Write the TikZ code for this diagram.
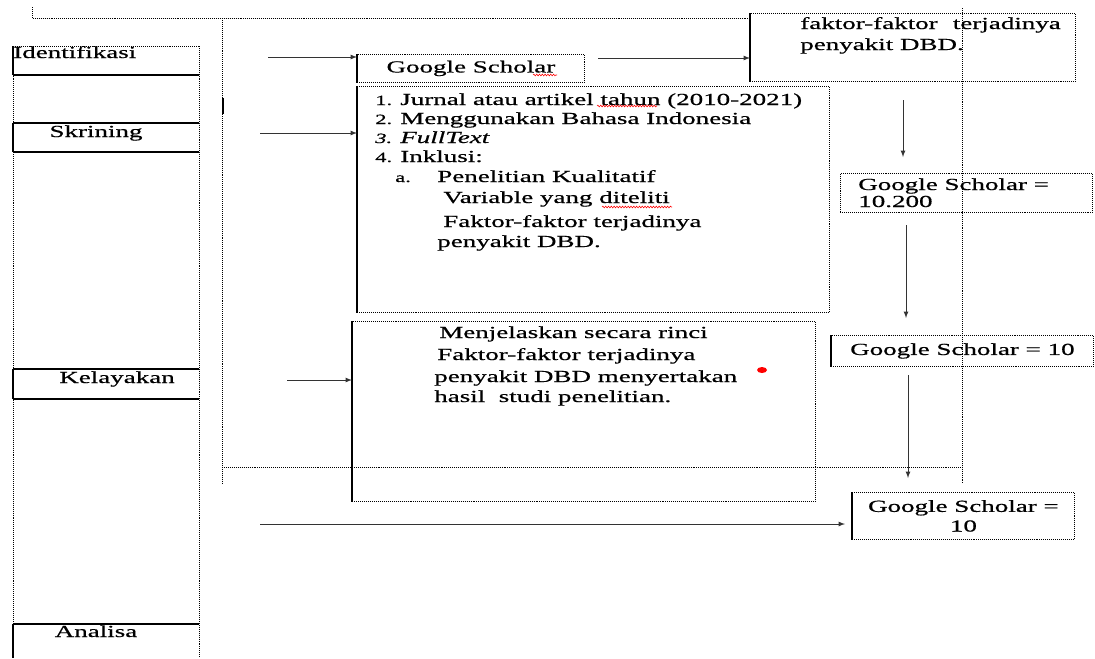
\documentclass[tikz,border=0pt]{standalone}
\usepackage{fontspec}
\setmainfont{Liberation Serif}[FakeStretch=1.6, FakeBold=0.6]
\usetikzlibrary{decorations.pathmorphing}

\newcommand\pxu{0.025cm}

\tikzset{
  dots/.style={line width=0.6pt, dash pattern=on 0.6pt off 0.8pt},
  cell/.style={draw, dots, inner sep=0, anchor=north west},
  edge/.style={line width=1.3pt},
  rule/.style={line width=0.8pt},
  txt/.style={inner sep=0, anchor=base west},
  stagetxt/.style={inner sep=0, anchor=base},
  arr/.style={->, >=latex, line width=0.6pt, draw=black!80},
  typo/.style={red, line width=0.4pt, decorate, decoration={snake, segment length=2pt, amplitude=0.6pt}}
}

\begin{document}
\begin{tikzpicture}[x=\pxu, y=-\pxu, font=\fontsize{12}{14}\selectfont]

  \useasboundingbox (0,0) rectangle (1095,658);

  % frames
  \draw[dots] (32,7) -- (32,18) -- (750,18);
  \draw[dots] (222,18) -- (222,483);
  \draw[dots] (962,8) -- (962,483);
  \draw[dots] (222,467) -- (962,467);
  \draw[edge] (223,98) -- (223,114);

  % stage column
  \draw[dots] (13,46) -- (13,658);
  \draw[dots] (199,46) -- (199,658);
  \draw[dots] (13,46) -- (199,46);
  \draw[rule] (13,75) -- (199,75);
  \draw[edge] (13,46) -- (13,75);
  \foreach \a/\b in {123/152, 369/399}{
    \draw[rule] (13,\a) -- (199,\a);
    \draw[rule] (13,\b) -- (199,\b);
    \draw[edge] (13,\a) -- (13,\b);
  }
  \draw[rule] (13,624) -- (199,624);
  \draw[edge] (13,624) -- (13,658);

  \node[txt] (idn) at (13,58) {Identifikasi};
  \node[stagetxt] (skr) at (96,137) {Skrining};
  \node[stagetxt] (kel) at (117,383) {Kelayakan};
  \node[stagetxt] (ana) at (96,637) {Analisa};

  % boxes
  \node[cell, minimum width=227*\pxu, minimum height=28*\pxu] (gs) at (357,54) {Google Scholar};
  \node[cell, minimum width=472*\pxu, minimum height=226*\pxu] (crit) at (357,86) {};
  \node[cell, minimum width=325*\pxu, minimum height=68*\pxu] (fk) at (750,13) {};
  \node[cell, minimum width=252*\pxu, minimum height=39*\pxu] (gsa) at (840,173) {};
  \node[cell, minimum width=262*\pxu, minimum height=31*\pxu] (gsb) at (831,335) {Google Scholar = 10};
  \node[cell, minimum width=222*\pxu, minimum height=47*\pxu, align=center] (gsc) at (852,492) {Google Scholar =\\10};
  \node[cell, minimum width=463*\pxu, minimum height=180*\pxu] (expl) at (352,321) {};

  \foreach \b in {gs, crit, fk, gsb, gsc, expl}
    \draw[edge] (\b.north west) -- (\b.south west);

  % texts
  \node[txt] (fk1) at (800,29) {faktor-faktor\hspace{0.9em}terjadinya};
  \node[txt] (fk2) at (800,50) {penyakit DBD.};
  \node[txt] (gsa1) at (858,190) {Google Scholar =};
  \node[txt] (gsa2) at (858,207) {10.200};

  \foreach \x/\y/\t [count=\i] in {375/105/1., 375/124/2., 375/143/\textit{3.}, 375/162/4., 395/182/a.}
    \node[txt, font=\fontsize{10}{12}\selectfont] (num\i) at (\x,\y) {\t};
  \foreach \x/\y/\t [count=\i] in {400/105/Jurnal atau artikel tahun (2010-2021),
      400/124/Menggunakan Bahasa Indonesia, 400/143/\textit{FullText}, 400/162/Inklusi:,
      437/182/Penelitian Kualitatif, 443/203/Variable yang diteliti,
      443/227/Faktor-faktor terjadinya, 437/247/penyakit DBD.}
    \node[txt] (crit\i) at (\x,\y) {\t};

  \foreach \x/\y/\t [count=\i] in {439/338/Menjelaskan secara rinci, 437/360/Faktor-faktor terjadinya,
      434/382/penyakit DBD menyertakan, 434/402/hasil\ \ studi penelitian.}
    \node[txt] (expl\i) at (\x,\y) {\t};

  % spelling marks
  \draw[typo] (533,75) -- (557,75);
  \draw[typo] (597,106) -- (657,106);
  \draw[typo] (602,207) -- (672,207);
  \fill[red] (762,370) ellipse [x radius=5, y radius=3];

  % arrows
  \coordinate (s1) at (268,57);
  \coordinate (s2) at (260,133);
  \coordinate (s3) at (287,380);
  \coordinate (s4) at (260,524);
  \coordinate (s5) at (598,58);
  \coordinate (d1) at (903,100);
  \coordinate (d2) at (906,225);
  \coordinate (d3) at (908,375);
  \draw[arr] (s1) -- (s1 -| gs.west);
  \draw[arr] (s2) -- (s2 -| crit.west);
  \draw[arr] (s3) -- (s3 -| expl.west);
  \draw[arr, shorten >=7*\pxu] (s4) -- (s4 -| gsc.west);
  \draw[arr] (s5) -- (s5 -| fk.west);
  \draw[arr, shorten >=16*\pxu] (d1) -- (d1 |- gsa.north);
  \draw[arr, shorten >=17*\pxu] (d2) -- (d2 |- gsb.north);
  \draw[arr, shorten >=14*\pxu] (d3) -- (d3 |- gsc.north);

\end{tikzpicture}
\end{document}
